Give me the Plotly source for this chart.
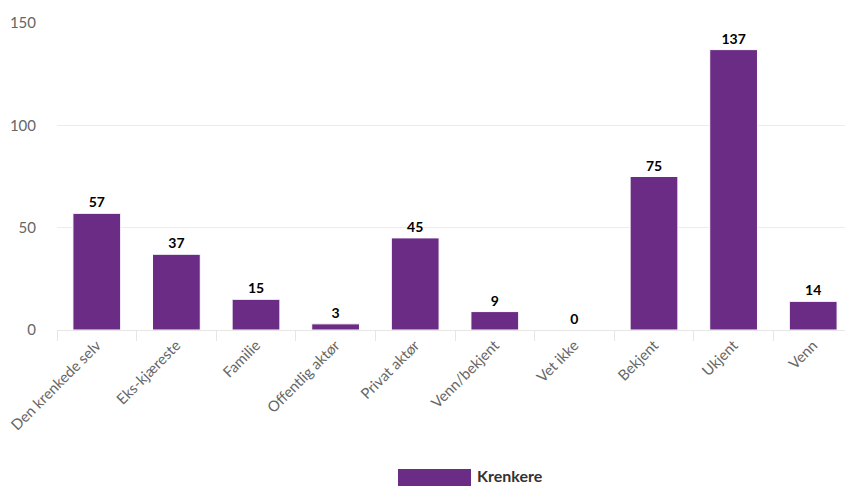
import plotly.graph_objects as go

categories = ["Den krenkede selv", "Eks-kjæreste", "Familie", "Offentlig aktør",
              "Privat aktør", "Venn/bekjent", "Vet ikke", "Bekjent", "Ukjent", "Venn"]
values = [57, 37, 15, 3, 45, 9, 0, 75, 137, 14]
series_name = "Krenkere"
y_ticks = [0, 50, 100, 150]

BAR = "#6b2c85"
FONT = "Source Sans Pro, Lato, Noto Sans, sans-serif"

# page body has an 8px default margin; figure sized to fill the remaining window
W, H = 845, 478
L, T, B = 49, 15, 156
PW, PH = W - L, H - T - B

fig = go.Figure()
fig.add_trace(go.Bar(
    x=categories, y=values, name=series_name,
    marker=dict(color=BAR, line=dict(color="#ffffff", width=1)),
    text=values, texttemplate="<b>%{text}</b>", textposition="outside",
    textfont=dict(family=FONT, size=14, color="#000000"),
    cliponaxis=False, showlegend=False,
))

fig.update_layout(
    width=W, height=H,
    margin=dict(l=L, r=0, t=T, b=B, pad=0),
    paper_bgcolor="#ffffff", plot_bgcolor="#ffffff",
    bargap=0.4,
    font=dict(family=FONT, size=15, color="#666666"),
    showlegend=False,
)
fig.update_xaxes(
    type="category", tickangle=-45, tickson="boundaries", automargin=False,
    ticks="outside", ticklen=10, tickcolor="#e6e6e6", tickwidth=1,
    showline=True, linecolor="#e6e6e6", linewidth=1,
    showgrid=False, tickfont=dict(family=FONT, size=14.8, color="#666666"),
)
fig.update_yaxes(
    range=[0, 150], tickvals=y_ticks, showgrid=True, gridcolor="#ececec",
    gridwidth=1, zeroline=False, showline=False, ticks="", automargin=False,
    ticklabelstandoff=20, tickfont=dict(family=FONT, size=15, color="#666666"),
)

# Legend drawn as swatch + label
fig.add_shape(type="rect", xref="paper", yref="paper",
              x0=(390 - L) / PW, x1=(463 - L) / PW,
              y0=-(478 - (T + PH)) / PH, y1=-(461 - (T + PH)) / PH,
              fillcolor=BAR, line=dict(width=0))
fig.add_annotation(xref="paper", yref="paper", x=(468 - L) / PW, y=-(467 - (T + PH)) / PH,
                   xanchor="left", yanchor="middle", showarrow=False, borderpad=0,
                   text="<b>" + series_name + "</b>",
                   font=dict(family=FONT, size=16, color="#333333"))

fig.write_html("out.html")
